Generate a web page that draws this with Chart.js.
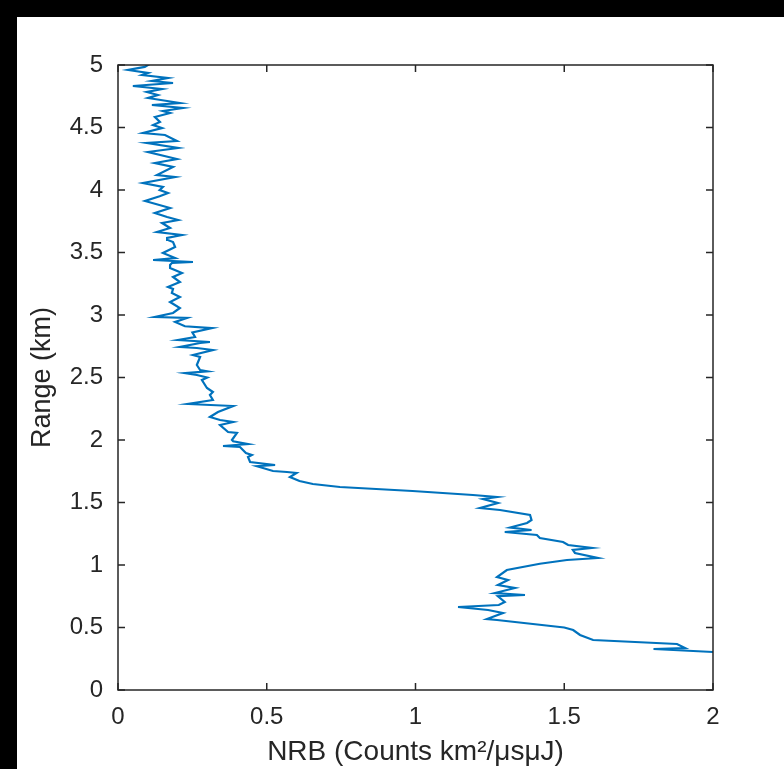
<!DOCTYPE html>
<html>
<head>
<meta charset="utf-8">
<script src="https://cdn.jsdelivr.net/npm/chart.js@4/dist/chart.umd.min.js"></script>
<style>
  html, body { margin: 0; padding: 0; background: #000; width: 784px; height: 769px; overflow: hidden; }
  #frame { position: absolute; left: 17px; top: 17px; width: 767px; height: 752px; background: #fff; }
  canvas { display: block; }
</style>
</head>
<body>
<div id="frame"><canvas id="c" width="767" height="752"></canvas></div>
<script>
// Range (km) of each sample, bottom to top
const rangeKm = [
  0.27, 0.304, 0.328, 0.336, 0.368, 0.40, 0.44, 0.48, 0.50, 0.56,
  0.568, 0.616, 0.64, 0.664, 0.68, 0.704, 0.75, 0.76, 0.776, 0.816,
  0.84, 0.88, 0.904, 0.96, 1.01, 1.04, 1.056, 1.096, 1.12, 1.136,
  1.16, 1.184, 1.216, 1.24, 1.264, 1.28, 1.30, 1.336, 1.36, 1.40,
  1.44, 1.456, 1.496, 1.528, 1.544, 1.56, 1.592, 1.624, 1.648, 1.672,
  1.704, 1.736, 1.744, 1.752, 1.79, 1.80, 1.824, 1.864, 1.88, 1.896,
  1.944, 1.952, 1.968, 1.99, 2.0, 2.056, 2.064, 2.12, 2.144, 2.16,
  2.184, 2.224, 2.272, 2.288, 2.32, 2.36, 2.384, 2.416, 2.48, 2.50,
  2.52, 2.535, 2.55, 2.56, 2.60, 2.664, 2.68, 2.72, 2.736, 2.744,
  2.776, 2.784, 2.80, 2.824, 2.86, 2.895, 2.91, 2.944, 2.976, 2.984,
  3.016, 3.056, 3.104, 3.144, 3.176, 3.208, 3.224, 3.264, 3.304, 3.336,
  3.376, 3.40, 3.416, 3.424, 3.44, 3.456, 3.496, 3.544, 3.584, 3.60,
  3.616, 3.64, 3.664, 3.696, 3.736, 3.76, 3.784, 3.816, 3.856, 3.872,
  3.912, 3.95, 3.976, 4.0, 4.024, 4.056, 4.104, 4.12, 4.184, 4.216,
  4.248, 4.304, 4.336, 4.376, 4.392, 4.44, 4.456, 4.496, 4.52, 4.544,
  4.584, 4.616, 4.632, 4.656, 4.68, 4.696, 4.736, 4.76, 4.784, 4.808,
  4.832, 4.856, 4.872, 4.896, 4.92, 4.936, 4.96, 4.985, 5.01
];
// Normalized relative backscatter at each range
const nrb = [
  2.15, 2.0, 1.80, 1.906, 1.879, 1.597, 1.553, 1.53, 1.50, 1.274,
  1.24, 1.294, 1.244, 1.143, 1.28, 1.30, 1.277, 1.368, 1.267, 1.334,
  1.277, 1.311, 1.274, 1.307, 1.418, 1.509, 1.613, 1.536, 1.529, 1.593,
  1.513, 1.496, 1.418, 1.408, 1.30, 1.39, 1.318, 1.375, 1.39, 1.385,
  1.284, 1.217, 1.277, 1.227, 1.274, 1.193, 0.99, 0.746, 0.655, 0.61,
  0.578, 0.60, 0.568, 0.521, 0.467, 0.528, 0.444, 0.437, 0.45, 0.43,
  0.41, 0.353, 0.437, 0.387, 0.383, 0.40, 0.37, 0.343, 0.387, 0.343,
  0.309, 0.336, 0.387, 0.235, 0.319, 0.309, 0.319, 0.299, 0.282, 0.30,
  0.265, 0.225, 0.30, 0.276, 0.265, 0.276, 0.252, 0.319, 0.265, 0.208,
  0.276, 0.309, 0.202, 0.259, 0.25, 0.316, 0.225, 0.192, 0.232, 0.124,
  0.185, 0.208, 0.175, 0.208, 0.181, 0.185, 0.168, 0.208, 0.185, 0.215,
  0.175, 0.175, 0.181, 0.252, 0.118, 0.192, 0.151, 0.192, 0.185, 0.168,
  0.165, 0.215, 0.131, 0.175, 0.148, 0.202, 0.165, 0.124, 0.175, 0.151,
  0.091, 0.14, 0.168, 0.14, 0.151, 0.084, 0.192, 0.131, 0.185, 0.124,
  0.198, 0.101, 0.202, 0.097, 0.198, 0.158, 0.084, 0.148, 0.118, 0.141,
  0.124, 0.175, 0.151, 0.218, 0.114, 0.208, 0.101, 0.134, 0.097, 0.148,
  0.05, 0.185, 0.114, 0.168, 0.081, 0.101, 0.034, 0.09, 0.108
];
const xTicks = [0, 0.5, 1, 1.5, 2];
const yTicks = [0, 0.5, 1, 1.5, 2, 2.5, 3, 3.5, 4, 4.5, 5];
const xTitle = 'NRB (Counts km\u00B2/\u03BCs\u03BCJ)';
const yTitle = 'Range (km)';

const points = rangeKm.map((r, i) => ({ x: nrb[i], y: r }));
const AX = '#262626';
const FONT = "'Liberation Sans', Arial, Helvetica, sans-serif";

const boxPlugin = {
  id: 'box',
  afterDraw(chart) {
    const { ctx, chartArea: a, scales } = chart;
    ctx.save();
    ctx.strokeStyle = AX;
    ctx.lineWidth = 1.5;
    ctx.strokeRect(a.left, a.top, a.right - a.left, a.bottom - a.top);
    const L = 7;
    ctx.beginPath();
    xTicks.forEach(v => {
      const px = scales.x.getPixelForValue(v);
      ctx.moveTo(px, a.bottom); ctx.lineTo(px, a.bottom - L);
      ctx.moveTo(px, a.top); ctx.lineTo(px, a.top + L);
    });
    yTicks.forEach(v => {
      const py = scales.y.getPixelForValue(v);
      ctx.moveTo(a.left, py); ctx.lineTo(a.left + L, py);
      ctx.moveTo(a.right, py); ctx.lineTo(a.right - L, py);
    });
    ctx.stroke();
    ctx.restore();
  }
};

new Chart(document.getElementById('c'), {
  type: 'line',
  data: {
    datasets: [{
      data: points,
      borderColor: '#0072BD',
      borderWidth: 2.2,
      pointRadius: 0,
      tension: 0,
      fill: false
    }]
  },
  options: {
    responsive: false,
    animation: false,
    layout: { padding: { top: 48, right: 71, left: 0, bottom: 0 } },
    plugins: { legend: { display: false }, tooltip: { enabled: false } },
    scales: {
      x: {
        type: 'linear', min: 0, max: 2,
        afterBuildTicks(s) { s.ticks = xTicks.map(v => ({ value: v })); },
        afterFit(s) { s.height = 79; },
        grid: { display: false, drawTicks: false },
        border: { display: false },
        ticks: { color: AX, font: { family: FONT, size: 24 }, padding: 13, maxRotation: 0,
                 callback: v => String(v) },
        title: { display: true, text: xTitle, color: AX, font: { family: FONT, size: 28 }, padding: { top: 0, bottom: 0 } }
      },
      y: {
        type: 'linear', min: 0, max: 5,
        afterBuildTicks(s) { s.ticks = yTicks.map(v => ({ value: v })); },
        afterFit(s) { s.width = 101; },
        grid: { display: false, drawTicks: false },
        border: { display: false },
        ticks: { color: AX, font: { family: FONT, size: 24 }, padding: 15,
                 callback: v => String(v) },
        title: { display: true, text: yTitle, color: AX, font: { family: FONT, size: 27 }, padding: { top: 9, bottom: 0 } }
      }
    }
  },
  plugins: [boxPlugin]
});
</script>
</body>
</html>
